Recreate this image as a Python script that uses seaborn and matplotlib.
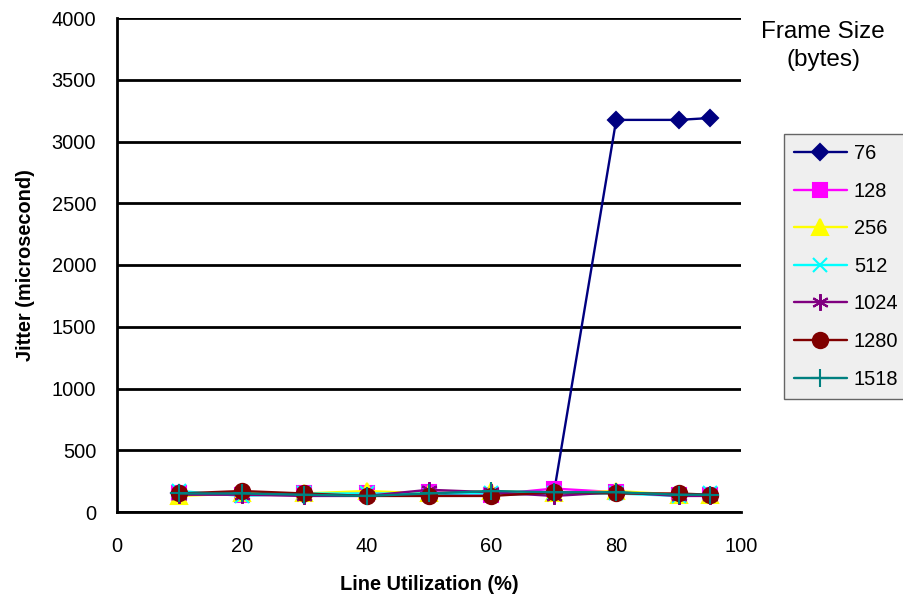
import matplotlib
matplotlib.use("Agg")
import matplotlib.pyplot as plt
import seaborn as sns
import pandas as pd
from matplotlib.lines import Line2D

utilization = [10, 20, 30, 40, 50, 60, 70, 80, 90, 95]
frame_sizes = ["76", "128", "256", "512", "1024", "1280", "1518"]
jitter_76 = [150, 150, 140, 140, 150, 140, 150, 3175, 3175, 3190]
jitter_128 = [150, 140, 150, 150, 160, 140, 190, 160, 140, 140]
jitter_256 = [130, 150, 150, 170, 150, 170, 150, 170, 140, 140]
jitter_512 = [170, 130, 150, 150, 150, 150, 150, 150, 130, 150]
jitter_1024 = [140, 140, 130, 130, 180, 160, 130, 160, 130, 130]
jitter_1280 = [150, 170, 150, 130, 130, 130, 160, 150, 150, 140]
jitter_1518 = [150, 150, 140, 130, 150, 170, 160, 160, 140, 140]
series = [jitter_76, jitter_128, jitter_256, jitter_512, jitter_1024, jitter_1280, jitter_1518]

colors = ["#000080", "#FF00FF", "#FFFF00", "#00FFFF", "#800080", "#800000", "#008080"]
markers = ["D", "s", "^", "x", (6, 2, 0), "o", "+"]
msizes = [8, 9.5, 11, 10.5, 12, 11, 13]

sns.set_style("white")
plt.rcParams["font.family"] = ["Liberation Sans", "DejaVu Sans"]
plt.rcParams["text.color"] = "black"
plt.rcParams["axes.labelcolor"] = "black"

rows = []
for name, vals in zip(frame_sizes, series):
    for x, y in zip(utilization, vals):
        rows.append({"util": x, "jitter": y, "size": name})
df = pd.DataFrame(rows)

fig = plt.figure(figsize=(9.04, 5.98), dpi=100)
ax = fig.add_axes([117 / 904, 1 - 512 / 598, (741 - 117) / 904, (512 - 18) / 598])

for name, c, m, ms in zip(frame_sizes, colors, markers, msizes):
    sub = df[df["size"] == name]
    sns.lineplot(data=sub, x="util", y="jitter", ax=ax, color=c, marker=m,
                 markersize=ms, markeredgecolor=c, markeredgewidth=1.5,
                 linewidth=1.7, legend=False, zorder=3)

ax.set_xlim(0, 100)
ax.set_ylim(0, 4000)
ax.set_xticks(range(0, 101, 20))
ax.set_yticks(range(0, 4001, 500))
ax.yaxis.grid(True, color="black", linewidth=2)
ax.xaxis.grid(False)
ax.set_axisbelow(True)
for s in ["top", "right"]:
    ax.spines[s].set_visible(False)
for s in ["left", "bottom"]:
    ax.spines[s].set_color("black")
    ax.spines[s].set_linewidth(2)
ax.tick_params(axis="both", direction="out", length=7, width=2, color="black",
               labelsize=14.4, labelcolor="black")
ax.tick_params(axis="y", pad=8)
ax.tick_params(axis="x", pad=11)
ax.set_xlabel("Line Utilization (%)", fontsize=14.4, fontweight="bold", labelpad=14,
              color="black")
ax.set_ylabel("Jitter (microsecond)", fontsize=14.4, fontweight="bold", labelpad=12,
              color="black")

handles = [Line2D([0], [0], color=c, marker=m, markersize=ms, markeredgecolor=c,
                  markeredgewidth=1.5, linewidth=1.7)
           for c, m, ms in zip(colors, markers, msizes)]
leg = fig.legend(handles, frame_sizes, loc="upper left",
                 bbox_to_anchor=(784 / 904, 1 - 134 / 598), borderaxespad=0,
                 fontsize=14.4, frameon=True, fancybox=False, handlelength=2.65,
                 handletextpad=0.35, labelspacing=0.93, borderpad=0.5)
leg.get_frame().set_facecolor("#ebebeb")
leg.get_frame().set_edgecolor("#404040")
leg.get_frame().set_linewidth(1)
for t in leg.get_texts():
    t.set_color("black")

fig.text(823 / 904, 1 - 46 / 598, "Frame Size\n(bytes)", ha="center", va="center",
         fontsize=17.5, linespacing=1.3, color="black")

fig.savefig("out.png", dpi=100)
